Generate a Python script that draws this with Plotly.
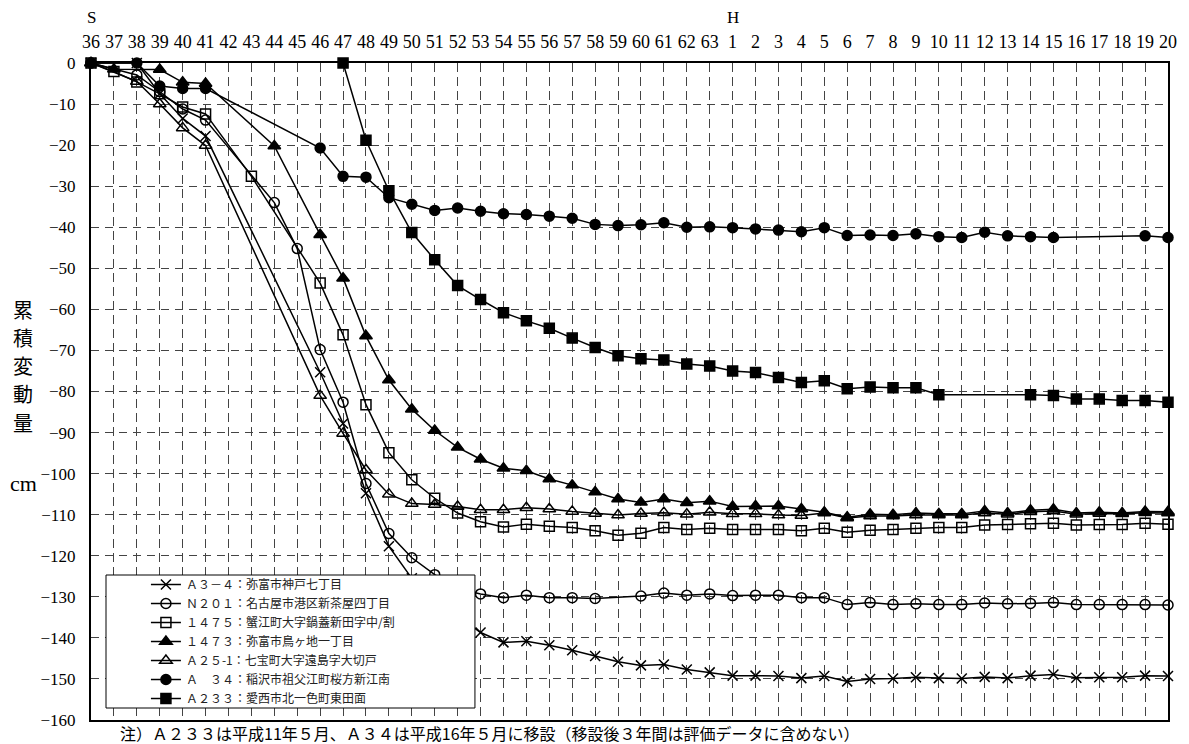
import plotly.graph_objects as go

# Categories: Showa 36-63, Heisei 1-20
categories = [f"S{y}" for y in range(36, 64)] + [f"H{y}" for y in range(1, 21)]
tick_labels = [str(y) for y in range(36, 64)] + [str(y) for y in range(1, 21)]
N = None

# S36..S63 (28 values), H1..H20 (20 values)
a3_4 = [0, N, 0, -7.5, -13.5, -17.8, N, N, N, N, -75.3, -87.8, -104.8, -117.7, -125.5, -130, -134.5, -138.7,
        -141.1, -140.8, -141.8, -143, -144.4, -145.8, -146.7, -146.5, -147.7, -148.4,
        -149.2, -149.2, -149.3, -149.8, -149.3, -150.6, -150, -149.9, -149.6, -149.8,
        -149.9, -149.5, -149.8, -149.2, -148.9, -149.7, -149.6, -149.6, -149.2, -149.3]
n201 = [0, N, -2.9, -7, -11.2, -13.9, N, N, -34, -45.2, -69.8, -82.6, -102.4, -114.6, -120.5, -124.6, -128, -129.3,
        -130.2, -129.6, -130.2, -130.2, -130.4, N, -129.8, -129.1, -129.6, -129.3,
        -129.7, -129.6, -129.6, -130.2, -130.2, -131.9, -131.4, -131.9, -131.7, -131.9,
        -131.9, -131.5, -131.7, -131.6, -131.4, -131.9, -131.9, -131.9, -131.9, -132]
p1475 = [0, -2.1, -4.6, -7.5, -10.7, -12.4, N, -27.6, N, N, -53.6, -66.2, -83.2, -94.9, -101.5, -106, -109.6, -111.7,
         -113, -112.3, -112.8, -113.1, -113.9, -115, -114.5, -113.1, -113.6, -113.3,
         -113.6, -113.6, -113.6, -113.9, -113.3, -114.3, -113.8, -113.6, -113.3, -113.1,
         -113.1, -112.5, -112.4, -112.2, -112.1, -112.5, -112.4, -112.4, -112.1, -112.3]
p1473 = [0, -1.5, N, -1.6, -4.7, -5, N, N, -20.2, N, -41.8, -52.4, -66.5, -77.2, -84.3, -89.5, -93.6, -96.5,
         -98.7, -99.3, -101.3, -102.8, -104.5, -106.2, -107, -106.2, -107.1, -106.7,
         -108, -107.9, -107.9, -108.6, -109.4, -110.6, -109.9, -110, -109.6, -109.8,
         -109.8, -109.1, -109.6, -108.9, -108.7, -109.6, -109.4, -109.6, -109.2, -109.3]
a25_1 = [0, N, -4.5, -10, -15.8, -20.1, N, N, N, N, -81, -90.2, -99.1, -105, -107.3, -107.5, -108, -108.8,
         -108.8, -108.3, -108.6, -109.2, -109.7, -110.1, -109.7, -109.5, -109.9, -109.4,
         -109.8, -109.8, -110.1, -110.2, -109.6, -110.8, -110.3, -110.3, -110.1, -110.1,
         -110.1, -109.6, -109.9, -109.3, -109.1, -109.9, -109.7, -109.8, -109.5, -109.6]
a34 = [0, N, 0, -5.6, -6.2, -6.2, N, N, N, N, -20.7, -27.6, -27.8, -32.8, -34.4, -35.9, -35.3, -36.1,
       -36.7, -36.9, -37.3, -37.8, -39.3, -39.6, -39.4, -38.9, -40, -39.9,
       -40.1, -40.4, -40.7, -41.1, -40.1, -42, -41.9, -42, -41.6, -42.3,
       -42.5, -41.2, -42.1, -42.3, -42.5, N, N, N, -42.1, -42.5]
a233 = [N, N, N, N, N, N, N, N, N, N, N, 0, -18.8, -31.1, -41.3, -47.9, -54.2, -57.6,
        -60.8, -62.8, -64.6, -67, -69.3, -71.3, -72, -72.3, -73.3, -73.8,
        -75, -75.4, -76.6, -77.8, -77.4, -79.3, -78.9, -79.1, -79.1, -80.8,
        N, N, N, -80.8, -81, -81.8, -81.8, -82.2, -82.2, -82.6]

series_names = [
    "Ａ３－４：弥富市神戸七丁目",
    "Ｎ２０１：名古屋市港区新茶屋四丁目",
    "１４７５：蟹江町大字鍋蓋新田字中/割",
    "１４７３：弥富市鳥ヶ地一丁目",
    "Ａ２５-1：七宝町大字遠島字大切戸",
    "Ａ　３４：稲沢市祖父江町桜方新江南",
    "Ａ２３３：愛西市北一色町東田面",
]
series_values = [a3_4, n201, p1475, p1473, a25_1, a34, a233]
symbols = ["x-thin", "circle-open", "square-open", "triangle-up", "triangle-up-open", "circle", "square"]
sizes = [10, 10, 10, 11, 11, 10, 10]

y_title_chars = ["累", "積", "変", "動", "量"]

fig = go.Figure()
for name, vals, sym, sz in zip(series_names, series_values, symbols, sizes):
    fig.add_trace(go.Scatter(
        x=categories, y=vals, name=name, mode="lines+markers",
        connectgaps=True, cliponaxis=False,
        line=dict(color="black", width=1.5),
        marker=dict(symbol=sym, size=sz, color="black",
                    line=dict(color="black", width=1.5)),
    ))

serif = "Liberation Serif"
cjk = "Noto Sans CJK JP"

annotations = []
# vertical y-axis title, one character per line (page y 308 .. 421)
for k, ch in enumerate(y_title_chars):
    ypix = 309 + 28.3 * k
    annotations.append(dict(text=ch, xref="paper", yref="paper",
                            x=-0.0631, y=(720 - ypix) / 657, xanchor="center", yanchor="middle",
                            showarrow=False, font=dict(family=cjk, size=20, color="black")))
annotations += [
    dict(text="cm", xref="paper", yref="paper", x=-0.0631, y=(720 - 483) / 657,
         xanchor="center", yanchor="middle", showarrow=False,
         font=dict(family=serif, size=22, color="black")),
    dict(text="S", xref="x", yref="paper", x="S36", y=1.070,
         xanchor="center", yanchor="middle", showarrow=False,
         font=dict(family=serif, size=17, color="black")),
    dict(text="H", xref="x", yref="paper", x="H1", y=1.070,
         xanchor="center", yanchor="middle", showarrow=False,
         font=dict(family=serif, size=17, color="black")),
    dict(text="注）Ａ２３３は平成11年５月、Ａ３４は平成16年５月に移設（移設後３年間は評価データに含めない）",
         xref="paper", yref="paper", x=(118 - 91) / 1077, y=-0.0198,
         xanchor="left", yanchor="middle", showarrow=False,
         font=dict(family=cjk, size=16, color="black")),
]

# page body has an 8px margin, so the figure is sized 8px smaller
fig.update_layout(
    width=1181, height=736,
    margin=dict(l=83, r=21, t=55, b=24),
    paper_bgcolor="white", plot_bgcolor="white",
    showlegend=True,
    legend=dict(x=0.051, y=0.2283, xanchor="left", yanchor="top",
                bgcolor="rgba(0,0,0,0)", borderwidth=0,
                font=dict(family=cjk, size=12, color="#222"),
                tracegroupgap=0, itemwidth=30),
    xaxis=dict(type="category", categoryorder="array", categoryarray=categories,
               tickmode="array", tickvals=categories, ticktext=tick_labels,
               side="top", range=[0, 47], showgrid=True, gridcolor="#444",
               griddash="9px,5px", gridwidth=1, showline=True, linecolor="black",
               linewidth=2, mirror=True, ticks="", zeroline=False,
               tickfont=dict(family=serif, size=18, color="black"),
               ticklabelstandoff=6),
    yaxis=dict(range=[-160, 0], dtick=10, tick0=0, showgrid=True, gridcolor="#444",
               griddash="8px,6px", gridwidth=1, showline=True, linecolor="black",
               linewidth=2, mirror=True, ticks="", zeroline=False,
               tickfont=dict(family=serif, size=17, color="black"),
               ticklabelstandoff=10),
    shapes=[dict(type="rect", xref="paper", yref="paper",
                 x0=0.01393, x1=0.3565, y0=0.01826, y1=0.2207,
                 fillcolor="white", line=dict(color="black", width=1), layer="above")],
    annotations=annotations,
)

fig.write_html("out.html")
